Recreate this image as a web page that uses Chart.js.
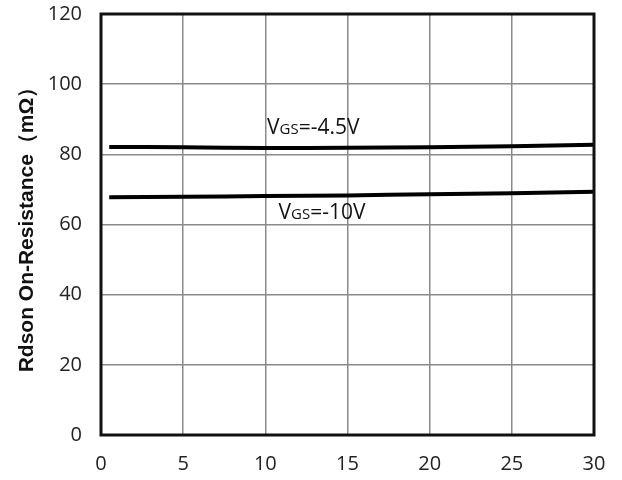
<!DOCTYPE html>
<html>
<head>
<meta charset="utf-8">
<script src="https://cdn.jsdelivr.net/npm/chart.js@4/dist/chart.umd.min.js"></script>
<style>
  html, body { margin: 0; padding: 0; background: #fff; }
  #wrap { width: 622px; height: 480px; }
</style>
</head>
<body>
<div id="wrap"><canvas id="rdsChart"></canvas></div>
<script>
// drain current (A) vs Rdson (mOhm)
const currents = [0.5, 5, 10, 15, 20, 25, 30];
const rdsVgs45 = [82.1, 82.0, 81.8, 81.9, 82.0, 82.3, 82.7];
const rdsVgs10 = [67.8, 67.9, 68.1, 68.3, 68.6, 68.9, 69.3];
const xTicks = [0, 5, 10, 15, 20, 25, 30];
const yTicks = [0, 20, 40, 60, 80, 100, 120];

// curve labels: [main, subscript, rest, x, y]
const curveLabels = [
    ['V', 'GS', '=-4.5V', 10.1, 87.6],
    ['V', 'GS', '=-10V', 10.8, 63.3]
];

const FONT = '"Open Sans", "Liberation Sans", sans-serif';

const frameAndLabels = {
    id: 'frameAndLabels',
    afterDatasetsDraw(chart) {
        const { ctx, chartArea: a, scales } = chart;
        ctx.save();
        ctx.strokeStyle = '#111';
        ctx.lineWidth = 3;
        ctx.strokeRect(a.left, a.top, a.right - a.left, a.bottom - a.top);

        ctx.fillStyle = '#111';
        ctx.textBaseline = 'middle';
        ctx.textAlign = 'left';
        curveLabels.forEach(([v, sub, rest, x, y]) => {
            let px = scales.x.getPixelForValue(x);
            const py = scales.y.getPixelForValue(y);
            ctx.font = '21px ' + FONT;
            ctx.fillText(v, px, py);
            px += ctx.measureText(v).width;
            ctx.font = '15px ' + FONT;
            ctx.fillText(sub, px, py + 2);
            px += ctx.measureText(sub).width;
            ctx.font = '21px ' + FONT;
            ctx.fillText(rest, px, py);
        });
        ctx.restore();
    }
};

const toPoints = ys => currents.map((x, i) => ({ x: x, y: ys[i] }));

new Chart(document.getElementById('rdsChart'), {
    type: 'line',
    data: {
        datasets: [
            { label: 'VGS=-4.5V', data: toPoints(rdsVgs45), borderColor: '#000', borderWidth: 4, pointRadius: 0, tension: 0.3 },
            { label: 'VGS=-10V', data: toPoints(rdsVgs10), borderColor: '#000', borderWidth: 4, pointRadius: 0, tension: 0.3 }
        ]
    },
    options: {
        responsive: true,
        maintainAspectRatio: false,
        animation: false,
        layout: { padding: { top: 14, right: 28, left: 0, bottom: 0 } },
        plugins: { legend: { display: false }, tooltip: { enabled: false } },
        scales: {
            x: {
                type: 'linear',
                min: 0,
                max: 30,
                afterBuildTicks: s => { s.ticks = xTicks.map(v => ({ value: v })); },
                afterFit: s => { s.height = 45; s.paddingLeft = 0; s.paddingRight = 0; },
                grid: { color: '#8a8a8a', lineWidth: 1.5, drawTicks: false },
                border: { display: false },
                ticks: { color: '#222', padding: 17, font: { size: 20, family: FONT } }
            },
            y: {
                min: 0,
                max: 120,
                afterBuildTicks: s => { s.ticks = yTicks.map(v => ({ value: v })); },
                afterFit: s => { s.width = 101; s.paddingTop = 0; s.paddingBottom = 0; },
                grid: { color: '#8a8a8a', lineWidth: 1.5, drawTicks: false },
                border: { display: false },
                ticks: { color: '#222', padding: 19, font: { size: 20, family: FONT } },
                title: {
                    display: true,
                    text: 'Rdson On-Resistance（mΩ）',
                    color: '#111',
                    padding: { top: 15, bottom: 4 },
                    font: { size: 21, weight: 'bold', family: '"Liberation Sans", Arial, sans-serif' }
                }
            }
        }
    },
    plugins: [frameAndLabels]
});
</script>
</body>
</html>
